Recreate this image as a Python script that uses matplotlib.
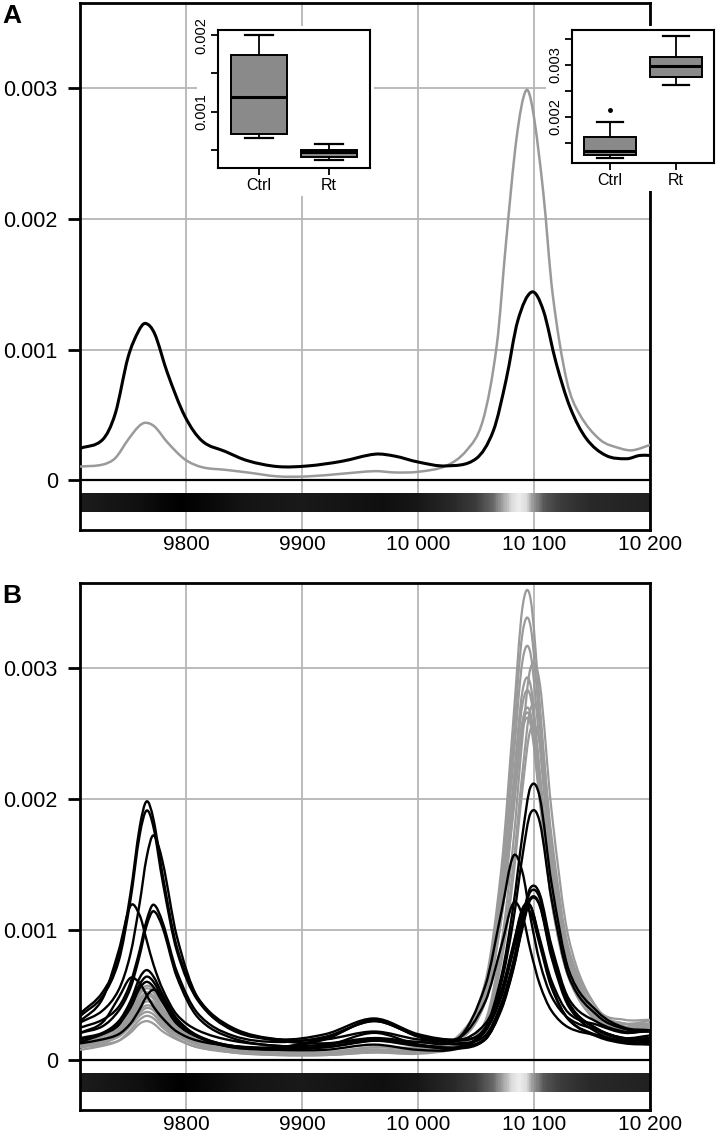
import numpy as np
import matplotlib
matplotlib.use("Agg")
import matplotlib.pyplot as plt
from matplotlib.colors import LinearSegmentedColormap
from matplotlib.patches import Rectangle, PathPatch
from matplotlib.path import Path

plt.rcParams['font.family'] = ['Liberation Sans', 'DejaVu Sans']

# all intensities are in units of 1e-4
UNIT = 1e-4

# ---- panel A: mean spectra ----
a_ctrl_x = [9709, 9728, 9739, 9750, 9759, 9765, 9773, 9784, 9799, 9814, 9834, 9853, 9879, 9905,
            9934, 9963, 9980, 10000, 10024, 10050, 10065, 10076, 10086, 10098, 10108, 10119,
            10131, 10145, 10162, 10180, 10191, 10200]
a_ctrl_y = [2.45, 3.1, 5.1, 9.4, 11.4, 12.0, 11.2, 8.2, 4.9, 3.0, 2.2, 1.5, 1.05, 1.1,
            1.45, 2.0, 1.85, 1.4, 1.1, 1.65, 3.8, 7.7, 12.2, 14.4, 13.0, 9.0,
            5.6, 3.2, 1.9, 1.65, 1.9, 1.9]
a_rt_x = [9709, 9728, 9739, 9750, 9759, 9765, 9773, 9784, 9799, 9814, 9834, 9853, 9879, 9905,
          9934, 9963, 9980, 10000, 10024, 10042, 10056, 10068, 10076, 10085, 10093, 10099,
          10108, 10116, 10128, 10139, 10157, 10174, 10185, 10200]
a_rt_y = [1.05, 1.2, 1.7, 3.1, 4.1, 4.4, 4.1, 2.9, 1.6, 1.0, 0.8, 0.6, 0.3, 0.3,
          0.5, 0.7, 0.6, 0.65, 1.1, 2.3, 4.6, 10.4, 18.3, 26.2, 29.8, 28.3,
          22.0, 14.3, 7.7, 5.1, 3.1, 2.45, 2.3, 2.7]

# ---- panel B: individual spectra on a common grid ----
b_x = [9709, 9728, 9742, 9752, 9760, 9766, 9772, 9780, 9792, 9810, 9840, 9880, 9920, 9962,
       10000, 10035, 10058, 10072, 10082, 10090, 10097, 10105, 10115, 10130, 10155, 10178, 10200]

b_ctrl = [
    [3.6, 5.2, 7.9, 12.7, 17.8, 19.8, 18.4, 14.1, 8.7, 4.8, 2.5, 1.6, 1.6, 2.2,
     1.6, 1.5, 2.8, 5.4, 8.8, 11.6, 11.8, 9.3, 6.1, 3.6, 2.7, 2.1, 2.3],
    [3.4, 4.9, 7.6, 12.2, 17.2, 19.1, 17.8, 13.6, 8.4, 4.6, 2.3, 1.5, 1.3, 1.7,
     1.4, 1.3, 1.9, 4.4, 7.5, 10.9, 13.2, 12.7, 8.8, 4.7, 2.9, 2.2, 2.2],
    [2.9, 3.8, 5.4, 8.1, 12.0, 15.5, 17.2, 15.1, 9.5, 4.8, 2.4, 1.6, 2.0, 3.2,
     2.0, 1.6, 2.4, 6.0, 10.6, 15.6, 18.9, 18.2, 12.4, 6.4, 3.4, 2.4, 2.2],
    [3.0, 4.7, 8.4, 11.8, 11.1, 9.2, 7.3, 5.4, 3.5, 2.3, 1.5, 1.1, 1.0, 1.5,
     1.4, 1.7, 5.7, 11.4, 15.6, 14.4, 10.9, 7.5, 4.9, 3.2, 2.3, 1.7, 1.9],
    [2.5, 3.1, 4.1, 5.9, 8.4, 10.7, 11.9, 10.5, 6.8, 3.6, 1.9, 1.4, 1.8, 3.0,
     1.9, 1.5, 2.5, 6.5, 11.7, 17.2, 20.9, 20.1, 13.6, 6.9, 3.7, 2.5, 2.3],
    [2.1, 2.6, 3.8, 5.5, 8.0, 10.3, 11.4, 10.1, 6.4, 3.3, 1.7, 1.1, 1.2, 1.6,
     1.2, 1.0, 1.7, 4.0, 7.0, 10.2, 12.4, 11.9, 8.1, 4.3, 2.4, 1.7, 1.7],
    [1.7, 2.1, 3.0, 4.5, 6.3, 6.9, 6.4, 5.0, 3.2, 1.9, 1.1, 1.0, 1.6, 3.1,
     1.8, 1.2, 1.6, 4.1, 7.2, 10.7, 12.9, 12.4, 8.5, 4.4, 2.3, 1.6, 1.5],
    [1.4, 2.0, 2.7, 4.3, 5.8, 6.4, 6.0, 4.7, 2.9, 1.8, 1.0, 0.8, 0.8, 1.2,
     0.8, 0.9, 2.2, 5.1, 8.7, 11.5, 11.8, 9.1, 5.7, 3.1, 1.8, 1.3, 1.2],
    [1.6, 2.0, 2.8, 4.0, 5.5, 6.0, 5.6, 4.4, 2.8, 1.8, 1.1, 0.8, 1.0, 1.5,
     1.1, 1.0, 2.3, 4.9, 8.3, 11.1, 11.3, 8.8, 5.6, 3.1, 1.9, 1.4, 1.4],
    [1.3, 1.6, 2.0, 2.8, 3.9, 4.9, 5.4, 4.8, 3.1, 1.8, 1.0, 0.9, 1.1, 2.1,
     1.2, 0.9, 1.6, 3.9, 6.9, 10.1, 12.3, 11.8, 7.9, 4.1, 2.1, 1.4, 1.3],
    [2.1, 2.9, 4.8, 6.3, 5.9, 5.0, 4.1, 3.2, 2.2, 1.5, 1.1, 1.0, 1.7, 3.0,
     1.9, 1.7, 4.5, 8.8, 12.0, 11.1, 8.4, 5.8, 3.8, 2.5, 1.9, 1.5, 1.6],
]

b_rt = [
    [1.4, 1.8, 2.6, 3.8, 5.2, 5.7, 5.4, 4.0, 2.7, 1.6, 0.8, 0.6, 0.6, 1.0,
     0.9, 1.9, 6.0, 14.8, 25.8, 34.6, 35.3, 27.2, 16.6, 8.5, 3.9, 3.1, 3.1],
    [1.2, 1.6, 2.4, 3.6, 5.0, 5.5, 5.2, 3.9, 2.6, 1.5, 0.8, 0.6, 0.5, 0.8,
     0.7, 1.7, 5.6, 13.9, 24.2, 32.6, 33.2, 25.6, 15.6, 7.9, 3.6, 2.8, 2.7],
    [1.2, 1.6, 2.3, 3.5, 4.7, 5.2, 4.9, 3.8, 2.5, 1.5, 0.8, 0.5, 0.5, 0.7,
     0.8, 1.7, 5.4, 13.1, 22.7, 30.5, 31.1, 24.0, 14.7, 7.5, 3.5, 2.8, 2.8],
    [1.0, 1.4, 2.1, 3.3, 4.5, 5.0, 4.7, 3.6, 2.3, 1.3, 0.7, 0.5, 0.5, 0.8,
     0.7, 1.3, 3.0, 9.0, 16.5, 24.6, 30.0, 28.8, 19.2, 9.3, 3.9, 2.8, 2.6],
    [1.1, 1.5, 2.1, 3.1, 4.3, 4.7, 4.4, 3.4, 2.3, 1.3, 0.8, 0.5, 0.5, 0.7,
     0.7, 1.6, 4.9, 12.1, 21.0, 28.2, 28.7, 22.1, 13.5, 6.9, 3.2, 2.5, 2.6],
    [1.3, 1.6, 2.2, 3.1, 4.1, 4.5, 4.3, 3.3, 2.3, 1.5, 0.8, 0.7, 0.6, 1.0,
     1.0, 1.7, 4.9, 11.8, 20.3, 27.2, 27.8, 21.4, 13.2, 6.9, 3.3, 2.8, 3.0],
    [1.0, 1.3, 1.9, 2.8, 3.8, 4.2, 4.0, 3.0, 2.0, 1.2, 0.6, 0.4, 0.4, 0.6,
     0.6, 1.1, 2.7, 8.1, 14.8, 22.0, 26.9, 25.8, 17.2, 8.4, 3.5, 2.6, 2.4],
    [1.1, 1.3, 1.9, 2.7, 3.6, 4.0, 3.8, 2.9, 2.0, 1.2, 0.7, 0.5, 0.5, 0.8,
     0.7, 1.5, 4.5, 11.0, 19.1, 25.6, 26.1, 20.1, 12.3, 6.3, 2.9, 2.4, 2.5],
    [1.1, 1.4, 1.8, 2.6, 3.4, 3.7, 3.5, 2.7, 1.9, 1.2, 0.7, 0.5, 0.5, 0.7,
     0.8, 1.6, 4.5, 10.9, 18.8, 25.2, 25.7, 19.8, 12.2, 6.3, 3.0, 2.5, 2.7],
    [0.8, 1.1, 1.5, 2.3, 3.1, 3.4, 3.2, 2.5, 1.7, 1.0, 0.6, 0.4, 0.4, 0.6,
     0.5, 1.0, 2.5, 7.6, 13.9, 20.7, 25.3, 24.3, 16.2, 7.8, 3.3, 2.4, 2.3],
    [1.0, 1.2, 1.5, 2.1, 2.8, 3.0, 2.8, 2.2, 1.6, 1.0, 0.7, 0.5, 0.5, 0.8,
     0.7, 1.5, 4.6, 11.2, 19.3, 25.9, 26.5, 20.4, 12.5, 6.4, 3.0, 2.4, 2.5],
]

# ---- difference bar (grey level along m/z) ----
bar_x = [9708, 9760, 9795, 9850, 9900, 9970, 10000, 10030, 10050, 10065, 10075, 10082,
         10088, 10094, 10100, 10110, 10125, 10150, 10200]
bar_level = [0.11, 0.06, 0.0, 0.08, 0.1, 0.06, 0.09, 0.16, 0.23, 0.4, 0.67, 0.87,
             0.93, 0.87, 0.6, 0.33, 0.23, 0.16, 0.13]

# ---- inset boxplots (Ctrl, Rt) ----
groups = ['Ctrl', 'Rt']
box1 = {'Ctrl': dict(whislo=6.5, q1=7.0, med=11.9, q3=17.4, whishi=20.0, fliers=[]),
        'Rt': dict(whislo=3.6, q1=4.1, med=4.7, q3=5.0, whishi=5.8, fliers=[])}
box2 = {'Ctrl': dict(whislo=12.1, q1=12.7, med=13.5, q3=16.1, whishi=18.9, fliers=[21.3]),
        'Rt': dict(whislo=26.2, q1=27.6, med=29.7, q3=31.5, whishi=35.6, fliers=[])}

x_ticks = [9800, 9900, 10000, 10100, 10200]
x_labels = ['9800', '9900', '10 000', '10 100', '10 200']
y_ticks = [0, 0.001, 0.002, 0.003]
y_labels = ['0', '0.001', '0.002', '0.003']

W, H = 725, 1139
fig = plt.figure(figsize=(W / 100, H / 100), dpi=100)

XLIM = (9708.6, 10200)
YLIM = (-0.00038, 0.00365)
GRID = '#b5b5b5'
GREY = '#9a9a9a'

span = bar_x[-1] - bar_x[0]
cmap = LinearSegmentedColormap.from_list(
    'bar', [((x - bar_x[0]) / span, (g, g, g)) for x, g in zip(bar_x, bar_level)])


def px_axes(left, top, right, bottom):
    return [left / W, 1 - bottom / H, (right - left) / W, (bottom - top) / H]


def smooth(ax, xs, ys, **kw):
    # draw the measured points joined by a smooth cubic (Hermite) path
    x = np.asarray(xs, float)
    y = np.asarray(ys, float) * UNIT
    s = np.empty(len(x))
    s[1:-1] = (y[2:] - y[:-2]) / (x[2:] - x[:-2])
    s[0] = (y[1] - y[0]) / (x[1] - x[0])
    s[-1] = (y[-1] - y[-2]) / (x[-1] - x[-2])
    verts = [(x[0], y[0])]
    codes = [Path.MOVETO]
    for i in range(len(x) - 1):
        h = x[i + 1] - x[i]
        verts += [(x[i] + h / 3, y[i] + s[i] * h / 3),
                  (x[i + 1] - h / 3, y[i + 1] - s[i + 1] * h / 3),
                  (x[i + 1], y[i + 1])]
        codes += [Path.CURVE4] * 3
    ax.add_patch(PathPatch(Path(verts, codes), fill=False, joinstyle='round',
                           capstyle='round', **kw))


def setup_main(ax):
    ax.set_axisbelow(True)
    ax.grid(True, color=GRID, lw=1.3)
    ax.axhline(0, color='black', lw=1.6, zorder=3)
    ramp = np.linspace(0, 1, 600)[None, :]
    ax.imshow(ramp, extent=(bar_x[0], bar_x[-1], -0.00024, -0.0001), aspect='auto',
              cmap=cmap, interpolation='bilinear', zorder=2)
    ax.set_xlim(*XLIM)
    ax.set_ylim(*YLIM)
    ax.set_xticks(x_ticks)
    ax.set_xticklabels(x_labels)
    ax.set_yticks(y_ticks)
    ax.set_yticklabels(y_labels)
    ax.tick_params(axis='x', length=0, pad=3.5, labelsize=15)
    ax.tick_params(axis='y', length=9, width=2, pad=7, labelsize=15.5)
    for s in ax.spines.values():
        s.set_linewidth(2)


ax_a = fig.add_axes(px_axes(80, 3, 650, 530))
setup_main(ax_a)
smooth(ax_a, a_rt_x, a_rt_y, edgecolor=GREY, lw=1.8, zorder=4)
smooth(ax_a, a_ctrl_x, a_ctrl_y, edgecolor='black', lw=2.2, zorder=5)

ax_b = fig.add_axes(px_axes(80, 583, 650, 1110))
setup_main(ax_b)
for ys in b_rt:
    smooth(ax_b, b_x, ys, edgecolor=GREY, lw=1.6, zorder=4)
for ys in b_ctrl:
    smooth(ax_b, b_x, ys, edgecolor='black', lw=1.7, zorder=5)

fig.text(2 / W, 1 - 4 / H, 'A', fontsize=19, fontweight='bold', va='top', ha='left')
fig.text(2 / W, 1 - 584 / H, 'B', fontsize=19, fontweight='bold', va='top', ha='left')


def inset(rect_px, bg_px, data, yticks, ylabels, ylim):
    l, t, r, b = bg_px
    fig.add_artist(Rectangle((l / W, 1 - b / H), (r - l) / W, (b - t) / H,
                             transform=fig.transFigure, facecolor='white',
                             edgecolor='none', zorder=4))
    ax = fig.add_axes(px_axes(*rect_px), zorder=5)
    stats = []
    for g in groups:
        d = dict(data[g])
        stats.append({k: (np.array(v) * UNIT if k == 'fliers' else v * UNIT)
                      for k, v in d.items()})
    ax.bxp(stats, positions=[1, 2], widths=0.8, patch_artist=True, capwidths=0.4,
           boxprops=dict(facecolor='#8a8a8a', edgecolor='black', lw=1.4),
           medianprops=dict(color='black', lw=2.2),
           whiskerprops=dict(color='black', lw=1.3),
           capprops=dict(color='black', lw=1.6),
           flierprops=dict(marker='o', markersize=2.5, markerfacecolor='black',
                           markeredgecolor='black'))
    ax.set_xlim(0.42, 2.58)
    ax.set_ylim(*ylim)
    ax.set_xticks([1, 2])
    ax.set_xticklabels(groups)
    ax.set_yticks(yticks)
    ax.set_yticklabels(ylabels)
    ax.tick_params(axis='x', length=5, width=1.3, pad=2, labelsize=11.5)
    ax.tick_params(axis='y', length=5, width=1.3, pad=2, labelsize=10.5, labelrotation=90)
    for lab in ax.get_yticklabels():
        lab.set_va('center')
    for s in ax.spines.values():
        s.set_linewidth(1.5)
    return ax


inset((218, 30, 370, 168), (197, 26, 374, 196), box1,
      [0.0005, 0.001, 0.0015, 0.002], ['', '0.001', '', '0.002'], (0.00026, 0.00207))
inset((572, 30, 714, 163), (546, 26, 725, 191), box2,
      [0.0015, 0.002, 0.0025, 0.003, 0.0035], ['', '0.002', '', '0.003', ''], (0.00111, 0.00367))

fig.savefig('out.png', dpi=100)
